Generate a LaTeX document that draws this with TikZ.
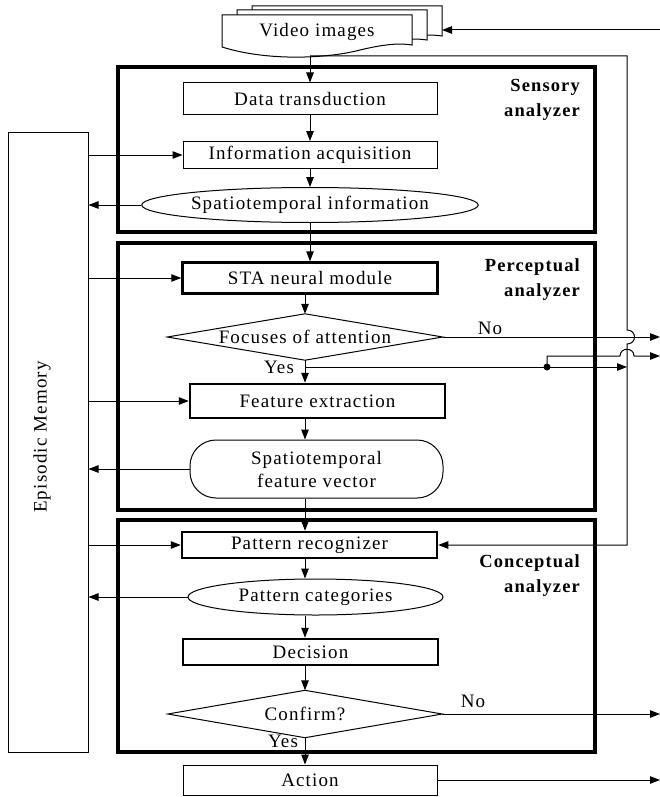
\documentclass[tikz,border=0pt]{standalone}
\usepackage{fontspec}
\setmainfont[LetterSpace=6]{Liberation Serif}
\usetikzlibrary{arrows.meta,shapes.geometric}
\begin{document}
\begin{tikzpicture}[x=1pt,y=-1pt,
  every node/.style={font=\fontsize{19}{23}\selectfont, inner sep=0pt},
  thinbox/.style={draw, line width=1pt, rectangle},
  thickbox/.style={draw, line width=2.5pt, rectangle},
  analyzer/.style={draw, line width=4pt, rectangle},
  oval/.style={draw, line width=1pt, ellipse},
  lbl/.style={font=\bfseries\fontsize{18.5}{25}\selectfont, align=right, anchor=east},
  arr/.style={line width=1pt, -{Triangle[length=10pt,width=7.5pt]}},
  wire/.style={line width=1pt},
  diam/.style={line width=1pt},
]
\useasboundingbox (0,0) rectangle (660,797);

% analyzer frames
\node[analyzer, minimum width=477pt, minimum height=165pt] (sens) at (356.5,149.5) {};
\node[analyzer, minimum width=477pt, minimum height=267pt] (perc) at (356.5,376.5) {};
\node[analyzer, minimum width=477pt, minimum height=232pt] (conc) at (356.5,636) {};
\node[lbl] (sensl) at (580,100) {Sensory\\analyzer};
\node[lbl] (percl) at (580,280) {Perceptual\\analyzer};
\node[lbl] (concl) at (580,576) {Conceptual\\analyzer};

% episodic memory
\node[thinbox, minimum width=80pt, minimum height=620pt] (em) at (48,442) {};
\node[rotate=90] (emt) at (42,437) {Episodic Memory};

% video images (stacked documents)
\foreach \dx/\dy in {30/-9, 15/-5, 0/0} {
  \draw[wire, fill=white, shift={(\dx,\dy)}] (222,15) -- (412,15) -- (412,45)
    .. controls (400,43) and (385,44) .. (360,50)
    .. controls (330,58) and (270,62) .. (222,47) -- cycle;
}
\node (video) at (317,32) {Video images};
\coordinate (vb) at (310,56);
\coordinate (vbr) at (442,30);
\coordinate (inR) at (660,30);
\coordinate (fbtop) at (627,56);
\coordinate (col) at (305,0);

% process nodes
\node[thinbox, minimum width=254pt, minimum height=32pt] (dt) at (310,99) {Data transduction};
\node[thinbox, minimum width=254pt, minimum height=27pt] (ia) at (310,155) {Information acquisition};
\node[oval, minimum width=318pt, minimum height=35pt] (si) at (310,205) {Spatiotemporal information};
\node[thickbox, minimum width=255pt, minimum height=31pt] (sta) at (310,278) {STA neural module};
\node[minimum width=275pt, minimum height=46pt] (foa) at (305,337) {Focuses of attention};
\draw[diam] (foa.west) -- (foa.north) -- (foa.east) -- (foa.south) -- cycle;
\node[thickbox, minimum width=255pt, minimum height=34pt] (fe) at (317.5,401) {Feature extraction};
\node[draw, line width=1pt, rounded corners=26pt, minimum width=253pt, minimum height=58pt, align=center] (sfv) at (316.5,469) {Spatiotemporal\\feature vector};
\node[thickbox, minimum width=255pt, minimum height=26pt] (pr) at (309.5,545) {Pattern recognizer};
\node[oval, minimum width=255pt, minimum height=36pt] (pc) at (315.5,597) {Pattern categories};
\node[thickbox, minimum width=255pt, minimum height=26pt] (dec) at (310.5,652) {Decision};
\node[minimum width=274pt, minimum height=47pt] (conf) at (305,714) {Confirm?};
\draw[diam] (conf.west) -- (conf.north) -- (conf.east) -- (conf.south) -- cycle;
\node[thinbox, minimum width=254pt, minimum height=30pt] (act) at (310,780) {Action};

% labels
\node (yes1) at (279,367) {Yes};
\node (no1) at (490,328) {No};
\node (yes2) at (283,741) {Yes};
\node (no2) at (473,701) {No};

% output coordinates
\coordinate (outNo) at (660,337);
\coordinate (outYes) at (660,356);
\coordinate (outNo2) at (660,714);
\coordinate (outAct) at (660,780);
\node[circle, fill, inner sep=0pt, minimum size=7pt] (dot) at (547,367) {};

% input / feedback wires
\draw[arr] (inR) -- (vbr);
\draw[arr] (vb) -- (dt.north);
\draw[arr] (vb) -- (fbtop) -- (627,330) .. controls (637,330) and (637,344) .. (627,344)
  -- (fbtop |- pr.east) -- (pr.east);

% main flow
\draw[arr] (dt.south) -- (ia.north);
\draw[arr] (ia.south) -- (si.north);
\draw[arr] (si.south) -- (sta.north);
\draw[arr] (sta.south -| foa.north) -- (foa.north);
\draw[arr] (foa.south) -- (foa.south |- fe.north);
\draw[arr] (fe.south -| col) -- (sfv.north -| col);
\draw[arr] (sfv.south -| col) -- (pr.north -| col);
\draw[arr] (pr.south -| col) -- (pc.north -| col);
\draw[arr] (pc.south -| col) -- (dec.north -| col);
\draw[arr] (dec.south -| col) -- (conf.north);
\draw[arr] (conf.south) -- (conf.south |- act.north);

% branches
\draw[arr] (foa.east) -- (outNo);
\draw[arr] (foa.south |- dot) -- (fbtop |- dot);
\draw[arr] (dot.center) -- (547,356) -- (620,356) .. controls (620,347) and (634,347) .. (634,356) -- (outYes);
\draw[arr] (conf.east) -- (outNo2);
\draw[arr] (act.east) -- (outAct);

% episodic memory links
\draw[arr] (em.east |- ia.west) -- (ia.west);
\draw[arr] (si.west) -- (si.west -| em.east);
\draw[arr] (em.east |- sta.west) -- (sta.west);
\draw[arr] (em.east |- fe.west) -- (fe.west);
\draw[arr] (sfv.west) -- (sfv.west -| em.east);
\draw[arr] (em.east |- pr.west) -- (pr.west);
\draw[arr] (pc.west) -- (pc.west -| em.east);
\end{tikzpicture}
\end{document}
